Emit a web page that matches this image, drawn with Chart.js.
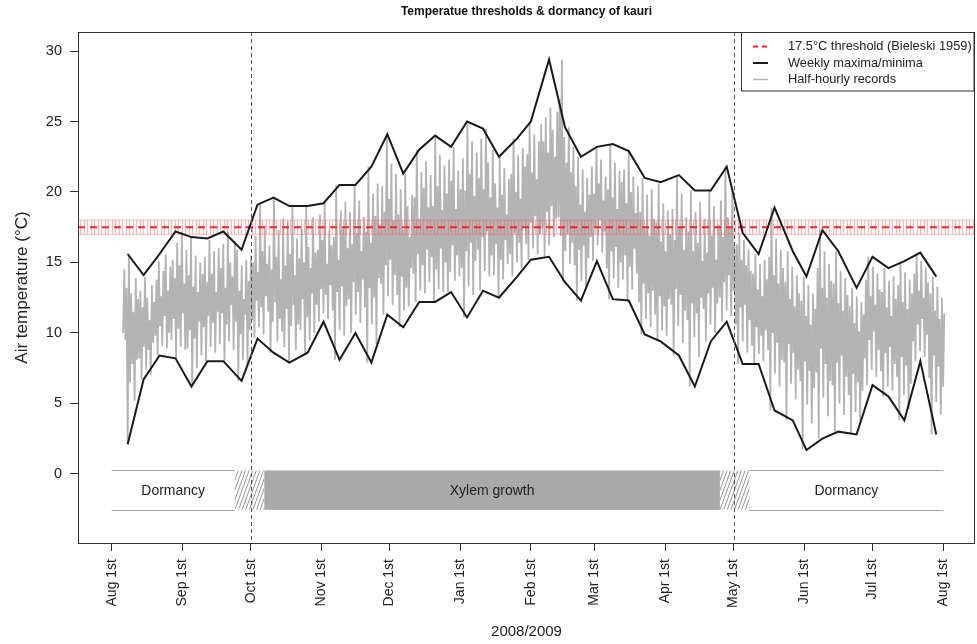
<!DOCTYPE html>
<html>
<head>
<meta charset="utf-8">
<script src="https://cdn.jsdelivr.net/npm/chart.js@4/dist/chart.umd.min.js"></script>
<style>
    html, body { margin: 0; padding: 0; background: #fff; }
</style>
</head>
<body>
<canvas id="chart" width="977" height="644"></canvas>
<script>
// x values are days since Aug 1st 2008

const monthDays = [0, 31, 61, 92, 122, 153, 184, 212, 243, 273, 304, 334, 365];
const monthLabels = ['Aug 1st', 'Sep 1st', 'Oct 1st', 'Nov 1st', 'Dec 1st', 'Jan 1st', 'Feb 1st',
    'Mar 1st', 'Apr 1st', 'May 1st', 'Jun 1st', 'Jul 1st', 'Aug 1st'];
const yTicks = [0, 5, 10, 15, 20, 25, 30];

// weekly maxima / minima
const weekDay = [7, 14, 21, 28, 35, 42, 49, 57, 64, 71, 78, 86, 93, 100, 107, 114,
    121, 128, 135, 142, 149, 156, 163, 170, 178, 184, 192, 199, 206, 213, 220, 227,
    234, 241, 249, 256, 263, 270, 277, 284, 291, 299, 305, 312, 319, 327, 334, 341,
    348, 355, 362];
const weekMax = [15.6, 14.1, 15.6, 17.2, 16.8, 16.7, 17.2, 15.9, 19.1, 19.6, 19.0, 19.0, 19.2, 20.5, 20.5, 21.8,
    24.1, 21.3, 23.0, 24.0, 23.2, 25.0, 24.5, 22.5, 23.8, 25.0, 29.4, 24.6, 22.5, 23.2, 23.4, 22.9,
    21.0, 20.7, 21.2, 20.1, 20.1, 21.8, 17.1, 15.6, 18.9, 15.8, 14.0, 17.3, 15.8, 13.2, 15.4, 14.6,
    15.1, 15.7, 14.0];
const weekMin = [2.1, 6.7, 8.4, 8.2, 6.2, 8.0, 8.0, 6.6, 9.6, 8.6, 7.9, 8.6, 10.8, 8.1, 10.0, 7.9,
    11.3, 10.4, 12.2, 12.2, 12.9, 11.1, 13.0, 12.5, 14.0, 15.2, 15.4, 13.6, 12.3, 15.1, 12.4, 12.3,
    9.9, 9.4, 8.4, 6.2, 9.4, 10.8, 7.8, 7.8, 4.5, 3.8, 1.7, 2.5, 3.0, 2.8, 6.3, 5.5,
    3.8, 8.0, 2.8];

// half-hourly records, reduced to the daily high and low of each day (day 5 .. day 365)
const recordStart = 5;
const recordEnd = 365;
const dailyMax = [
    14.5, 13.2, 15.6, 12.8, 11.5, 13.9, 12.4, 13.0, 11.8, 14.0, 12.5, 10.9, 13.4, 12.2,
    13.8, 15.1, 12.6, 14.4, 15.6, 13.0, 14.7, 15.2, 13.9, 16.4, 14.8, 17.2, 13.5, 15.9,
    14.1, 16.8, 13.3, 15.5, 12.9, 15.0, 14.2, 15.4, 13.6, 16.6, 14.2, 15.8, 12.9, 16.0,
    14.6, 16.3, 13.2, 17.2, 15.0, 14.0, 16.5, 15.9, 13.0, 14.8, 12.4, 15.2, 13.7, 15.5,
    15.0, 16.9, 14.3, 19.1, 15.8, 17.6, 14.9, 16.2, 14.5, 19.6, 15.4, 17.3, 13.8, 18.1,
    14.8, 17.9, 15.6, 19.0, 14.1, 16.7, 15.3, 17.4, 15.0, 19.0, 16.1, 14.6, 18.2, 15.7,
    15.9, 18.4, 16.6, 19.2, 14.9, 17.3, 16.2, 16.8, 20.5, 15.2, 18.7, 17.4, 19.3, 16.0,
    18.6, 16.3, 20.5, 17.1, 19.4, 15.8, 18.2, 17.2, 21.8, 16.4, 19.9, 18.3, 20.6, 17.7,
    20.4, 18.6, 24.1, 19.5, 22.0, 18.0, 21.3, 18.4, 20.2, 17.3, 21.3, 19.0, 16.8, 19.8,
    19.6, 23.0, 18.1, 21.4, 20.3, 22.2, 18.9, 21.2, 19.0, 24.0, 20.4, 22.6, 18.7, 21.9,
    19.9, 22.3, 20.8, 23.2, 18.8, 21.5, 20.2, 22.4, 20.1, 25.0, 21.3, 23.6, 19.7, 22.8,
    21.0, 23.8, 20.2, 24.5, 22.1, 19.6, 23.0, 20.6, 18.9, 22.5, 19.8, 21.7, 18.4, 20.9,
    21.3, 23.8, 20.0, 22.6, 19.5, 23.1, 21.8, 22.7, 25.0, 21.4, 24.1, 20.9, 23.6, 24.8,
    23.6, 25.3, 22.8, 26.0, 24.4, 22.5, 25.7, 26.6, 29.4, 23.9, 22.1, 24.6, 21.4, 23.2,
    20.4, 22.5, 19.1, 21.6, 18.6, 21.0, 19.8, 21.8, 19.9, 23.2, 20.6, 22.3, 19.4, 21.1,
    20.2, 23.4, 19.6, 22.1, 18.8, 21.5, 20.7, 21.6, 19.2, 22.9, 20.0, 21.1, 18.5, 20.4,
    18.6, 21.0, 17.4, 19.8, 16.9, 20.2, 18.1, 17.9, 20.6, 16.5, 19.2, 15.8, 18.7, 17.0,
    18.8, 16.6, 21.2, 17.5, 19.9, 15.9, 18.2, 17.2, 20.1, 15.8, 18.6, 16.4, 19.3, 15.1,
    18.1, 15.7, 20.1, 16.9, 19.0, 15.2, 17.7, 19.4, 16.8, 21.8, 18.2, 17.5, 20.3, 16.2,
    16.3, 17.1, 15.2, 16.6, 14.8, 15.9, 14.4, 14.2, 15.6, 13.1, 14.9, 12.6, 15.2, 13.8,
    15.4, 18.9, 14.1, 16.7, 13.5, 15.9, 14.6, 13.6, 15.8, 12.4, 14.7, 11.9, 14.1, 12.8,
    12.3, 14.0, 11.2, 13.4, 10.6, 12.8, 11.7, 14.6, 17.3, 13.2, 15.8, 12.5, 14.9, 13.7,
    13.5, 15.8, 12.1, 14.4, 11.6, 13.9, 12.7, 11.9, 13.2, 10.7, 12.6, 10.1, 12.2, 11.3,
    13.8, 15.4, 12.6, 14.7, 12.0, 14.2, 13.1, 12.9, 14.6, 11.8, 13.7, 11.2, 14.0, 12.4,
    13.4, 15.0, 12.2, 14.3, 11.7, 13.8, 12.8, 14.2, 15.7, 13.0, 15.1, 12.5, 14.6, 13.6,
    12.8, 14.0, 11.6, 13.3, 11.0, 12.5, 11.4
];
const dailyMin = [
    10.0, 9.5, 2.1, 6.5, 7.8, 5.2, 8.1, 8.2, 6.7, 9.0, 7.4, 8.8, 7.0, 9.3,
    9.8, 8.4, 10.5, 9.1, 11.2, 8.9, 10.0, 9.5, 11.0, 8.2, 10.3, 9.0, 11.4, 8.8,
    8.9, 10.2, 6.2, 9.6, 7.5, 10.8, 8.4, 10.4, 8.0, 11.2, 9.0, 10.7, 8.6, 11.5,
    9.2, 11.4, 8.0, 10.6, 9.4, 12.0, 8.8, 10.8, 6.6, 9.9, 8.1, 11.3, 7.6, 10.2,
    10.9, 9.6, 12.3, 10.4, 11.8, 9.9, 12.6, 11.5, 8.6, 10.8, 12.2, 9.4, 11.0, 10.1,
    9.0, 11.7, 7.9, 10.5, 12.0, 8.8, 10.6, 10.2, 12.4, 8.6, 11.1, 9.5, 12.8, 10.0,
    12.0, 10.8, 13.1, 11.4, 12.7, 11.0, 13.4, 11.6, 8.1, 12.9, 10.2, 13.3, 9.8, 11.9,
    12.4, 10.0, 13.6, 11.3, 12.9, 10.7, 13.8, 11.8, 7.9, 13.2, 10.6, 12.5, 9.2, 13.9,
    13.5, 11.3, 14.8, 12.6, 15.2, 12.0, 14.1, 12.7, 10.4, 14.0, 11.6, 13.2, 11.9, 14.6,
    14.2, 12.2, 15.6, 13.0, 14.8, 12.8, 15.9, 13.6, 15.4, 12.2, 14.5, 13.1, 16.0, 12.9,
    15.0, 12.9, 14.3, 16.2, 13.7, 15.5, 14.0, 14.6, 11.1, 15.8, 13.3, 16.4, 12.7, 15.1,
    15.9, 13.0, 16.8, 14.4, 17.2, 14.0, 15.5, 14.1, 16.3, 12.5, 15.2, 13.8, 16.6, 14.9,
    15.6, 14.0, 17.1, 15.0, 16.4, 14.6, 17.5, 16.3, 15.2, 17.8, 16.0, 18.3, 15.6, 17.0,
    17.4, 15.4, 18.6, 16.2, 19.0, 16.8, 18.1, 18.2, 16.9, 13.6, 15.8, 17.0, 14.9, 16.4,
    14.8, 12.3, 15.9, 13.7, 16.2, 13.1, 15.3, 16.8, 15.1, 17.6, 16.2, 18.0, 15.7, 17.2,
    14.6, 12.4, 15.8, 13.9, 16.1, 13.2, 15.0, 13.8, 15.5, 12.3, 14.7, 13.1, 16.0, 14.2,
    12.2, 9.9, 13.5, 11.0, 12.8, 10.4, 13.0, 11.3, 9.4, 12.6, 10.2, 11.9, 9.8, 12.4,
    12.0, 8.4, 13.1, 10.5, 12.7, 9.3, 11.6, 10.9, 6.2, 12.1, 9.7, 11.4, 8.3, 12.5,
    11.7, 9.4, 12.8, 10.6, 13.2, 10.0, 12.1, 12.5, 10.8, 13.6, 11.6, 14.1, 11.2, 13.0,
    10.6, 7.8, 11.8, 9.4, 12.0, 8.6, 10.9, 9.1, 7.8, 10.4, 8.5, 9.8, 8.0, 10.2,
    8.8, 4.5, 10.0, 7.1, 9.3, 6.2, 8.1, 7.9, 3.8, 9.2, 6.4, 8.6, 5.3, 7.4,
    6.6, 1.7, 8.0, 4.9, 7.3, 3.6, 6.1, 7.2, 2.5, 8.9, 5.4, 7.8, 4.1, 6.6,
    6.3, 3.0, 7.9, 5.0, 8.4, 4.2, 6.9, 5.6, 2.8, 7.1, 4.4, 6.5, 3.7, 5.9,
    8.2, 6.3, 9.5, 7.4, 10.1, 6.9, 8.8, 7.3, 5.5, 8.6, 6.2, 9.0, 5.9, 7.8,
    6.9, 3.8, 8.3, 5.6, 7.7, 4.6, 6.4, 9.4, 8.0, 10.6, 8.7, 11.0, 8.3, 9.9,
    6.8, 2.8, 8.4, 5.1, 7.6, 4.2, 6.2
];

// 17.5 degC threshold (Bieleski 1959) and its band
const threshold = 17.5;
const thresholdLow = 17.0;
const thresholdHigh = 18.0;

// phenology phases along the bottom
const phaseStart = [0, 54, 67, 267, 280];
const phaseEnd = [54, 67, 267, 280, 365];
const phaseKind = ['dormancy', 'transition', 'growth', 'transition', 'dormancy'];
const phaseLabel = ['Dormancy', '', 'Xylem growth', '', 'Dormancy'];
const phaseTop = 0.25;
const phaseBottom = -2.55;

// dashed markers at Oct 1st and May 1st
const markerDays = [61, 273];

const xMin = -14.8, xMax = 379;
const yMin = -4.9, yMax = 31.35;

const FONT = '"Liberation Sans", Arial, Helvetica, sans-serif';

// ---------------------------------------------------------->

const step = (recordEnd - recordStart) / (dailyMax.length - 1);
const records = [];
dailyMax.forEach((hi, i) => {
    const d = recordStart + i * step;
    records.push({ x: d, y: dailyMin[i] });
    records.push({ x: d + step / 2, y: hi });
});

const decor = {
    id: 'decor',
    beforeDatasetsDraw(chart) {
        const { ctx, scales: { x, y } } = chart;
        const top = y.getPixelForValue(phaseTop);
        const bottom = y.getPixelForValue(phaseBottom);
        ctx.save();
        phaseKind.forEach((kind, i) => {
            const x0 = x.getPixelForValue(phaseStart[i]);
            const x1 = x.getPixelForValue(phaseEnd[i]);
            if (kind === 'growth') {
                ctx.fillStyle = '#a9a9a9';
                ctx.fillRect(x0, top, x1 - x0, bottom - top);
            } else if (kind === 'transition') {
                ctx.save();
                ctx.beginPath();
                ctx.rect(x0, top, x1 - x0, bottom - top);
                ctx.clip();
                ctx.strokeStyle = '#8a8a8a';
                ctx.lineWidth = 0.9;
                const h = bottom - top;
                const dx = h * 0.36;
                for (let sx = x0 - dx; sx < x1 + dx; sx += 3.6) {
                    ctx.beginPath();
                    ctx.moveTo(sx, bottom);
                    ctx.lineTo(sx + dx, top);
                    ctx.stroke();
                }
                ctx.restore();
            } else {
                ctx.strokeStyle = '#a0a0a0';
                ctx.lineWidth = 1;
                ctx.beginPath();
                ctx.moveTo(x0, Math.round(top) + 0.5);
                ctx.lineTo(x1, Math.round(top) + 0.5);
                ctx.moveTo(x0, Math.round(bottom) + 0.5);
                ctx.lineTo(x1, Math.round(bottom) + 0.5);
                ctx.stroke();
            }
            if (phaseLabel[i]) {
                ctx.fillStyle = '#222';
                ctx.font = '14px ' + FONT;
                ctx.textAlign = 'center';
                ctx.textBaseline = 'middle';
                ctx.fillText(phaseLabel[i], (x0 + x1) / 2, (top + bottom) / 2 + 1);
            }
        });
        ctx.restore();
    },
    afterDatasetDraw(chart, args) {
        if (args.index !== 0) return;
        const { ctx, chartArea: a, scales: { y } } = chart;
        const yHi = y.getPixelForValue(thresholdHigh);
        const yLo = y.getPixelForValue(thresholdLow);
        ctx.save();
        ctx.strokeStyle = 'rgba(255, 90, 90, 0.45)';
        ctx.lineWidth = 1;
        ctx.beginPath();
        for (let px = a.left + 2; px < a.right; px += 3.5) {
            ctx.moveTo(Math.round(px) + 0.5, yHi);
            ctx.lineTo(Math.round(px) + 0.5, yLo);
        }
        ctx.moveTo(a.left, yHi);
        ctx.lineTo(a.right, yHi);
        ctx.moveTo(a.left, yLo);
        ctx.lineTo(a.right, yLo);
        ctx.stroke();
        ctx.restore();
    },
    afterDatasetsDraw(chart) {
        const { ctx, chartArea: a, scales: { x } } = chart;
        ctx.save();
        ctx.strokeStyle = '#555';
        ctx.lineWidth = 1;
        ctx.setLineDash([4, 3]);
        markerDays.forEach(d => {
            const px = Math.round(x.getPixelForValue(d)) + 0.5;
            ctx.beginPath();
            ctx.moveTo(px, a.top);
            ctx.lineTo(px, a.bottom);
            ctx.stroke();
        });
        ctx.restore();
    },
    afterDraw(chart) {
        const { ctx, chartArea: a } = chart;
        ctx.save();
        // box
        ctx.strokeStyle = '#333';
        ctx.lineWidth = 1;
        ctx.strokeRect(Math.round(a.left) + 0.5, Math.round(a.top) + 0.5,
            Math.round(a.right - a.left) - 1, Math.round(a.bottom - a.top));

        // title
        ctx.fillStyle = '#111';
        ctx.font = 'bold 12px ' + FONT;
        ctx.textAlign = 'center';
        ctx.textBaseline = 'middle';
        ctx.fillText('Temperatue thresholds & dormancy of kauri', (a.left + a.right) / 2, 12);

        // legend
        const lx = 741.5, ly = a.top + 0.5, lw = a.right - 741.5 - 1, lh = 58.5;
        ctx.fillStyle = '#fff';
        ctx.fillRect(lx, ly, lw, lh);
        ctx.strokeRect(lx, ly, lw, lh);
        const items = [
            { text: '17.5°C threshold (Bieleski 1959)', color: '#ff2020', width: 2, dash: [5, 4] },
            { text: 'Weekly maxima/minima', color: '#1a1a1a', width: 2, dash: [] },
            { text: 'Half-hourly records', color: '#b4b4b4', width: 1.5, dash: [] },
        ];
        ctx.font = '12.8px ' + FONT;
        ctx.textAlign = 'left';
        items.forEach((it, i) => {
            const ry = 46.5 + i * 16.5;
            ctx.strokeStyle = it.color;
            ctx.lineWidth = it.width;
            ctx.setLineDash(it.dash);
            ctx.beginPath();
            ctx.moveTo(753, ry);
            ctx.lineTo(768, ry);
            ctx.stroke();
            ctx.fillStyle = '#222';
            ctx.fillText(it.text, 788, ry);
        });
        ctx.restore();
    },
};

new Chart(document.getElementById('chart'), {
    type: 'line',
    data: {
        datasets: [
            {
                label: 'Half-hourly records',
                data: records,
                borderColor: '#b3b3b3',
                borderWidth: 1.8,
                pointRadius: 0,
                tension: 0,
                order: 3,
            },
            {
                label: '17.5°C threshold (Bieleski 1959)',
                data: [{ x: xMin, y: threshold }, { x: xMax, y: threshold }],
                borderColor: '#ff2020',
                borderWidth: 2,
                borderDash: [7, 5],
                pointRadius: 0,
                order: 2,
            },
            {
                label: 'Weekly maxima',
                data: weekDay.map((d, i) => ({ x: d, y: weekMax[i] })),
                borderColor: '#1a1a1a',
                borderWidth: 2,
                pointRadius: 0,
                order: 1,
            },
            {
                label: 'Weekly minima',
                data: weekDay.map((d, i) => ({ x: d, y: weekMin[i] })),
                borderColor: '#1a1a1a',
                borderWidth: 2,
                pointRadius: 0,
                order: 1,
            },
        ],
    },
    options: {
        responsive: false,
        animation: false,
        layout: { padding: { left: 0, right: 2, top: 32, bottom: 0 } },
        plugins: {
            legend: { display: false },
            tooltip: { enabled: false },
        },
        scales: {
            x: {
                type: 'linear',
                min: xMin,
                max: xMax,
                afterBuildTicks: s => { s.ticks = monthDays.map(v => ({ value: v })); },
                afterFit: s => { s.height = 101; },
                border: { display: false },
                grid: { drawOnChartArea: false, tickLength: 8, color: '#333' },
                ticks: {
                    autoSkip: false,
                    maxRotation: 90,
                    minRotation: 90,
                    padding: 8,
                    color: '#222',
                    font: { family: FONT, size: 14 },
                    callback: (v, i) => monthLabels[i],
                },
                title: {
                    display: true,
                    text: '2008/2009',
                    color: '#222',
                    font: { family: FONT, size: 15 },
                    padding: { top: 0, bottom: 3 },
                },
            },
            y: {
                min: yMin,
                max: yMax,
                afterBuildTicks: s => { s.ticks = yTicks.map(v => ({ value: v })); },
                afterFit: s => { s.width = 78; },
                border: { display: false },
                grid: { drawOnChartArea: false, tickLength: 8, color: '#333' },
                ticks: {
                    padding: 8,
                    color: '#222',
                    font: { family: FONT, size: 14.5 },
                },
                title: {
                    display: true,
                    text: 'Air temperature (°C)',
                    color: '#222',
                    font: { family: FONT, size: 17 },
                    padding: { top: 12, bottom: 0 },
                },
            },
        },
    },
    plugins: [decor],
});
</script>
</body>
</html>
